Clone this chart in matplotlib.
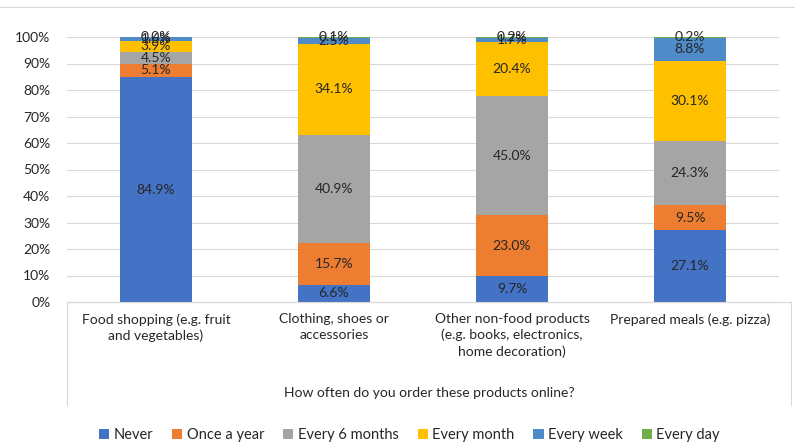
import numpy as np
import matplotlib.pyplot as plt
from matplotlib.lines import Line2D

plt.rcParams['font.family'] = ['Lato', 'DejaVu Sans']

# data
categories = ['Food shopping (e.g. fruit\nand vegetables)',
              'Clothing, shoes or\naccessories',
              'Other non-food products\n(e.g. books, electronics,\nhome decoration)',
              'Prepared meals (e.g. pizza)']
series = ['Never', 'Once a year', 'Every 6 months', 'Every month', 'Every week', 'Every day']
never = [84.9, 6.6, 9.7, 27.1]
once_year = [5.1, 15.7, 23.0, 9.5]
six_months = [4.5, 40.9, 45.0, 24.3]
month = [3.9, 34.1, 20.4, 30.1]
week = [1.6, 2.5, 1.7, 8.8]
day = [0.0, 0.1, 0.2, 0.2]
colors = ['#4472C4', '#ED7D31', '#A5A5A5', '#FFC000', '#4F8BC9', '#70AD47']
values = [never, once_year, six_months, month, week, day]

fig = plt.figure(figsize=(7.95, 4.42), dpi=100)
ax = fig.add_axes([67 / 795, 1 - 302 / 442, 712 / 795, 265 / 442])

x = np.arange(len(categories))
bottom = np.zeros(len(categories))
for name, vals, col in zip(series, values, colors):
    vals = np.array(vals)
    ax.bar(x, vals, bottom=bottom, width=0.4, color=col, label=name, zorder=3)
    for xi, b, v in zip(x, bottom, vals):
        ax.text(xi, b + v / 2, f'{v:.1f}%', ha='center', va='center',
                fontsize=10, color='#262626', zorder=4)
    bottom += vals

ax.set_xlim(-0.5, 3.5)
ax.set_ylim(0, 100)
ax.set_yticks(np.arange(0, 101, 10))
ax.set_yticklabels([f'{t}%' for t in range(0, 101, 10)], fontsize=10, color='#262626')
ax.grid(axis='y', color='#D9D9D9', linewidth=0.8, zorder=0)
ax.tick_params(axis='y', length=0, pad=12)
ax.tick_params(axis='x', length=0, pad=8)
ax.set_xticks(x)
ax.set_xticklabels(categories, fontsize=10, color='#262626', linespacing=1.35, va='top')
for s in ['top', 'right', 'left']:
    ax.spines[s].set_visible(False)
ax.spines['bottom'].set_color('#D9D9D9')

# box around category labels and axis title
y_top = 1 - 302 / 442
y_bot = 1 - 405 / 442
xl, xr = 67 / 795, 791 / 795
for xs, ys in [([xl, xl], [y_top, y_bot]), ([xr, xr], [y_top, y_bot]), ([xl, xr], [y_top, y_top])]:
    fig.add_artist(Line2D(xs, ys, color='#D9D9D9', linewidth=0.8))
fig.add_artist(Line2D([0, 1], [1 - 7 / 442, 1 - 7 / 442], color='#D9D9D9', linewidth=0.8))

fig.text(0.5 * (xl + xr), 1 - 393 / 442, 'How often do you order these products online?',
         ha='center', va='center', fontsize=10, color='#262626')

fig.legend(loc='center', bbox_to_anchor=(0.515, 1 - 435 / 442), ncol=6, frameon=False,
           fontsize=10.5, handlelength=0.7, handleheight=0.7, handletextpad=0.3,
           columnspacing=1.3, labelcolor='#262626')

plt.savefig('out.png', dpi=100)
